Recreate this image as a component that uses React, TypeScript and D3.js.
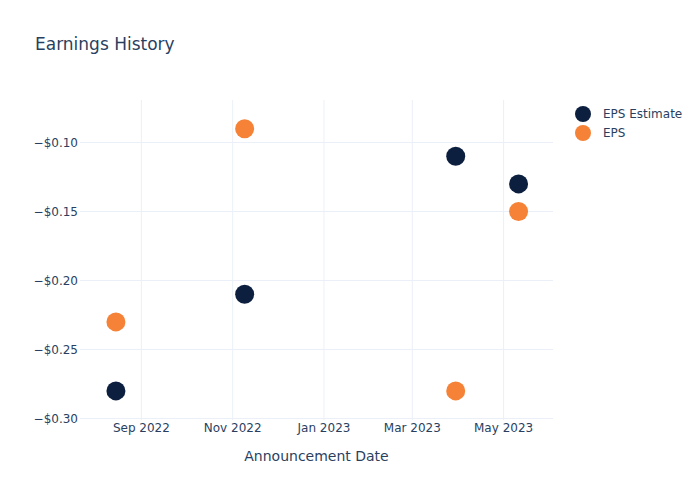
import React from "react";
import * as d3 from "d3";

const dates = ["2022-08-15", "2022-11-09", "2023-03-30", "2023-05-11"];
const epsEstimate = [-0.28, -0.21, -0.11, -0.13];
const epsActual = [-0.23, -0.09, -0.28, -0.15];
const yTicks = [-0.3, -0.25, -0.2, -0.15, -0.1];
const xTicks = ["2022-09-01", "2022-11-01", "2023-01-01", "2023-03-01", "2023-05-01"];
const seriesNames = ["EPS Estimate", "EPS"];
const colors = ["#0c1f3f", "#f58236"];

export default function App() {
  const W = 700, H = 500;
  const L = 80, R = 553, T = 100, B = 420;
  const parse = d3.utcParse("%Y-%m-%d");
  const x = d3.scaleUtc()
    .domain([parse("2022-07-22")!, parse("2023-06-03")!])
    .range([L, R]);
  const y = d3.scaleLinear().domain([-0.3011, -0.0692]).range([B, T]);
  const font = '"DejaVu Sans", verdana, arial, sans-serif';
  const tc = "#2a3f5f";
  const fmtY = (v: number) => "\u2212$" + Math.abs(v).toFixed(2);
  const fmtX = d3.utcFormat("%b %Y");
  const series = [epsEstimate, epsActual];
  return (
    <svg width={W} height={H} style={{ display: "block", position: "absolute", left: 0, top: 0 }} fontFamily={font}>
      <rect width={W} height={H} fill="#fff" />
      {xTicks.map((d) => {
        const xx = x(parse(d)!);
        return (
          <g key={d}>
            <line x1={xx} x2={xx} y1={T} y2={B} stroke="#ebf0f8" strokeWidth={1} />
            <text x={xx} y={432} textAnchor="middle" fontSize={12} fill={tc}>{fmtX(parse(d)!)}</text>
          </g>
        );
      })}
      {yTicks.map((v) => (
        <g key={v}>
          <line x1={L} x2={R} y1={y(v)} y2={y(v)} stroke="#ebf0f8" strokeWidth={1} />
          <text x={L - 2} y={y(v)} dy="0.35em" textAnchor="end" fontSize={12} fill={tc}>{fmtY(v)}</text>
        </g>
      ))}
      {series.map((s, si) =>
        s.map((v, i) => (
          <circle key={si + "-" + i} cx={x(parse(dates[i])!)} cy={y(v)} r={9.5} fill={colors[si]} />
        ))
      )}
      <text x={35} y={50} fontSize={17} fill={tc}>Earnings History</text>
      <text x={(L + R) / 2} y={461} textAnchor="middle" fontSize={14} fill={tc}>Announcement Date</text>
      {seriesNames.map((n, i) => (
        <g key={n}>
          <circle cx={583} cy={114 + i * 19} r={8} fill={colors[i]} />
          <text x={603} y={114 + i * 19} dy="0.35em" fontSize={12} fill={tc}>{n}</text>
        </g>
      ))}
    </svg>
  );
}
